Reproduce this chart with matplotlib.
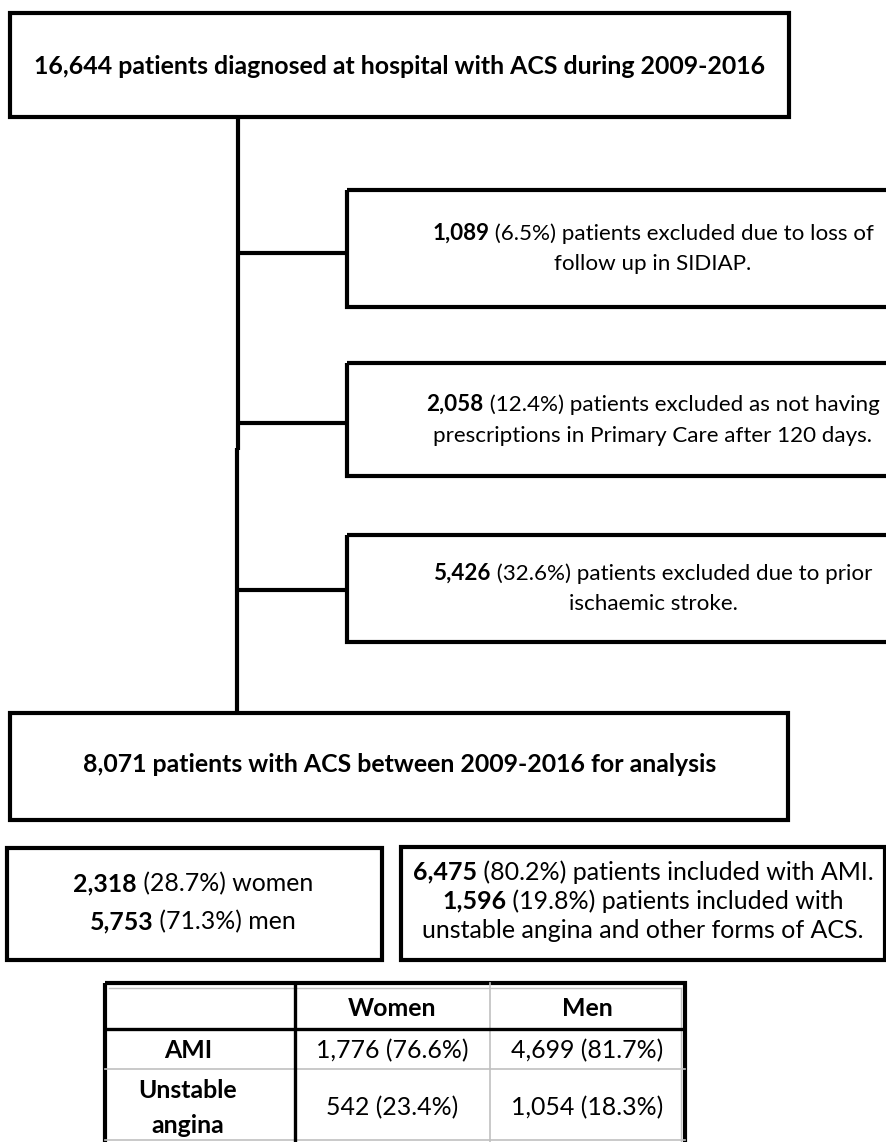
import matplotlib
matplotlib.use("Agg")
import matplotlib.pyplot as plt
from matplotlib.patches import Rectangle

plt.rcParams['font.family'] = ['Lato', 'DejaVu Sans']

# flow chart texts and numbers
total_text = "16,644 patients diagnosed at hospital with ACS during 2009-2016"
final_text = "8,071 patients with ACS between 2009-2016 for analysis"

excl_counts = ["1,089", "2,058", "5,426"]
excl_pcts = ["(6.5%)", "(12.4%)", "(32.6%)"]
excl_line1 = ["patients excluded due to loss of",
              "patients excluded as not having",
              "patients excluded due to prior"]
excl_line2 = ["follow up in SIDIAP.",
              "prescriptions in Primary Care after 120 days.",
              "ischaemic stroke."]

sex_counts = ["2,318", "5,753"]
sex_pcts = ["(28.7%)", "(71.3%)"]
sex_names = ["women", "men"]

type_counts = ["6,475", "1,596"]
type_pcts = ["(80.2%)", "(19.8%)"]
type_names = ["patients included with AMI.", "patients included with"]
type_extra = "unstable angina and other forms of ACS."

table_cols = ["Women", "Men"]
table_rows = ["AMI", "Unstable\nangina"]
women_vals = ["1,776 (76.6%)", "542 (23.4%)"]
men_vals = ["4,699 (81.7%)", "1,054 (18.3%)"]

fig = plt.figure(figsize=(8.87, 11.42), dpi=100)
ax = fig.add_axes([0, 0, 1, 1])
ax.set_xlim(0, 887)
ax.set_ylim(1142, 0)
ax.axis('off')
r = fig.canvas.get_renderer()

LW = 3.0


def width(s, size, weight='normal'):
    t = ax.text(0, 0, s, fontsize=size, fontweight=weight)
    w = t.get_window_extent(r).width
    t.remove()
    return w


def fit(s, target, weight='normal'):
    return 10 * target / width(s, 10, weight)


def line(parts, cx, y, size):
    ws = [width(p, size, wt) for p, wt in parts]
    x = cx - sum(ws) / 2
    for (p, wt), w in zip(parts, ws):
        ax.text(x, y, p, fontsize=size, fontweight=wt, ha='left', va='center_baseline')
        x += w


def box(x0, y0, x1, y1, lw=LW):
    ax.add_patch(Rectangle((x0, y0), x1 - x0, y1 - y0, fill=False, lw=lw,
                           ec='black', joinstyle='miter'))


# top and bottom main boxes
box(10, 13, 789, 117)
head_size = fit(total_text, 734, 'bold')
ax.text(400, 65, total_text, fontsize=head_size, fontweight='bold', ha='center', va='center_baseline')

box(10, 713, 788, 820)
ax.text(400, 763, final_text, fontsize=head_size, fontweight='bold', ha='center', va='center_baseline')

# trunk line
ax.plot([238, 238], [117, 450], color='black', lw=LW, solid_capstyle='butt')
ax.plot([237, 237], [448, 713], color='black', lw=LW, solid_capstyle='butt')

# exclusion boxes
body_size = fit("1,089 (6.5%) patients excluded due to loss of", 442)
excl_box = [(190, 307, 253), (363, 476, 423), (535, 642, 590)]
for i, (y0, y1, yc) in enumerate(excl_box):
    box(347, y0, 960, y1)
    ax.plot([238, 347], [yc, yc], color='black', lw=LW, solid_capstyle='butt')
    mid = (y0 + y1) / 2
    line([(excl_counts[i], 'bold'), (" " + excl_pcts[i] + " " + excl_line1[i], 'normal')],
         653, mid - 17, body_size)
    line([(excl_line2[i], 'normal')], 653, mid + 14, body_size)

# sex box
box(7, 848, 382, 960)
sex_size = fit("2,318 (28.7%) women", 240)
for i, y in enumerate([882, 920]):
    line([(sex_counts[i], 'bold'), (" " + sex_pcts[i] + " " + sex_names[i], 'normal')],
         193, y, sex_size)

# type box
box(401, 847, 885, 960)
type_size = fit("6,475 (80.2%) patients included with AMI.", 461)
for i, y in enumerate([870, 899]):
    line([(type_counts[i], 'bold'), (" " + type_pcts[i] + " " + type_names[i], 'normal')],
         643, y, type_size)
line([(type_extra, 'normal')], 643, 928, type_size)

# table
gray = '#c0c0c0'
tab_size = fit("4,699 (81.7%)", 152)
tx0, tx1, ty0 = 105, 685, 983
col_x = [tx0, 295, 490, tx1]
ax.plot([tx0 + 4, tx1 - 4], [ty0 + 5, ty0 + 5], color=gray, lw=1)
ax.plot([tx1 - 4, tx1 - 4], [ty0 + 5, 1142], color=gray, lw=1)
ax.plot([col_x[2], col_x[2]], [ty0, 1142], color=gray, lw=1.2)
ax.plot([tx0, tx1], [1069, 1069], color=gray, lw=1.2)
ax.plot([tx0, tx1], [1140, 1140], color=gray, lw=1.2)
ax.plot([col_x[1], col_x[1]], [ty0, 1142], color='black', lw=2.4, solid_capstyle='butt')
ax.plot([tx0, tx1], [1029, 1029], color='black', lw=2.4, solid_capstyle='butt')
box(tx0, ty0, tx1, 1170, lw=LW)

col_c = [(col_x[j] + col_x[j + 1]) / 2 for j in range(3)]
for j, name in enumerate(table_cols):
    ax.text(col_c[j + 1], 1006, name, fontsize=tab_size, fontweight='bold',
            ha='center', va='center_baseline')
row_y = [1049, 1106]
for i, name in enumerate(table_rows):
    parts = name.split("\n")
    n = len(parts)
    for k, p in enumerate(parts):
        ax.text(col_c[0] - 12, row_y[i] + (k - (n - 1) / 2) * 35, p, fontsize=tab_size,
                fontweight='bold', ha='center', va='center_baseline')
    ax.text(col_c[1], row_y[i], women_vals[i], fontsize=tab_size,
            ha='center', va='center_baseline')
    ax.text(col_c[2], row_y[i], men_vals[i], fontsize=tab_size,
            ha='center', va='center_baseline')

fig.savefig("out.png", dpi=100, facecolor='white')
